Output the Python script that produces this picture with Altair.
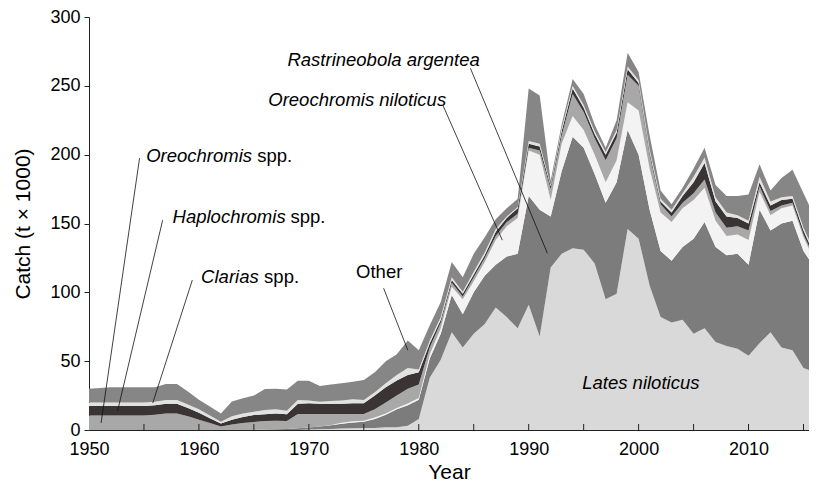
import altair as alt
import pandas as pd

years = list(range(1950, 2017))

series_names = ["Lates niloticus", "Rastrineobola argentea", "Oreochromis niloticus",
                "Oreochromis spp.", "Haplochromis spp.", "Clarias spp.", "Other"]
series_colors = ["#d9d9d9", "#7c7c7c", "#f3f3f3", "#a8a8a8", "#3a3434", "#e2e2e2", "#868686"]

lates = [0] * 20 + [
    0.3, 0.5, 0.7, 1, 1.2, 1.5, 1.5, 2, 2, 3,
    8, 38, 51, 71, 60, 70, 77, 89, 82, 74,
    91, 68, 118, 128, 132, 131, 121, 95, 99, 146,
    139, 105, 82, 78, 80, 70, 74, 64, 61, 59,
    54, 63, 71, 60, 58, 45, 42]

rastrineobola = [0] * 16 + [
    0.3, 0.5, 0.8, 1.2,
    1.5, 2, 2.8, 3.5, 4.3, 4.5, 6.5, 9, 13, 15,
    14, 14, 19, 27, 24, 30, 35, 31, 44, 54,
    79, 92, 37, 60, 81, 74, 65, 70, 81, 72,
    61, 55, 48, 45, 53, 69, 77, 69, 66, 69,
    66, 97, 74, 90, 94, 85, 76]

o_niloticus = [0] * 22 + [
    0.1, 0.8, 0.8, 0.8, 1, 1, 1, 1.2,
    1.2, 3, 4, 6, 11, 8, 10, 18, 22, 26,
    33, 40, 12, 20, 15, 13, 14, 15, 16, 20,
    32, 30, 28, 28, 28, 28, 25, 19, 14, 14,
    18, 13, 11, 11, 11, 10, 5]

oreochromis_spp = [
    10.5, 10.5, 10.5, 10.5, 10.5, 10.5, 11, 12, 12, 10,
    7.5, 5, 2.6, 4, 5, 5.8, 6.2, 6.3, 5.7, 10.4,
    9.8, 9.1, 8, 6.3, 5.3, 4.8, 6, 8, 9, 10.8,
    9.8, 5, 4, 3, 2, 3, 3, 3, 3, 3,
    2, 3, 8, 6, 16, 13, 12, 16, 16, 20,
    18, 10, 6, 4, 4, 5, 6, 6, 6, 6,
    7, 4, 3, 2, 2, 2, 2]

haplochromis = [
    7, 7, 7, 7, 7, 7, 7, 7, 7, 6,
    5, 3.5, 2.2, 3.5, 4.5, 5.1, 5, 5.2, 5, 7.4,
    7.8, 7.4, 7.4, 7.4, 7.8, 7.8, 10, 11, 11, 10,
    9, 3, 2, 2, 2, 2, 2, 3, 3, 4,
    3, 3, 2, 3, 4, 3, 3, 4, 4, 4,
    2, 2, 2, 3, 5, 8, 12, 8, 8, 6,
    5, 3, 4, 4, 3, 3, 2]

clarias = [
    2.5, 2.5, 2.5, 2.5, 2.5, 2.5, 2.5, 2.8, 2.8, 2.5,
    2.5, 2, 1.2, 2.5, 2.5, 2.4, 3, 3, 2.5, 2.8,
    2.1, 1.5, 2, 2.5, 3, 2.4, 2.5, 3, 4, 5,
    2, 2, 2, 2, 1.5, 2, 2, 2, 1, 1,
    2, 2, 1, 2, 2, 2, 2, 2, 2, 2,
    2, 2, 2, 2, 2, 4, 4, 3, 3, 2,
    2, 4, 3, 2, 2, 2, 2]

other = [
    10, 10.5, 11, 11, 11, 11, 10.5, 11.7, 11.7, 9.5,
    7, 6.5, 6, 10.7, 11, 11.7, 15.2, 15, 15.5, 14,
    14.3, 11.5, 12, 12.5, 12.6, 14.5, 14.5, 16, 15, 20,
    14, 11, 11, 11, 10.5, 13, 11, 7, 6, 6,
    38, 35, 3, 3, 5, 8, 5, 3, 7, 10,
    6, 10, 6, 4, 4, 6, 7, 9, 12, 14,
    19, 9, 8, 14, 19, 25, 26]

series_values = [lates, rastrineobola, o_niloticus, oreochromis_spp,
                 haplochromis, clarias, other]

rows = []
for k, (name, vals) in enumerate(zip(series_names, series_values)):
    for yr, v in zip(years, vals):
        rows.append({"year": yr, "catch": v, "species": name, "order": k})
df = pd.DataFrame(rows)

# annotation label anchors (data coordinates)
center_italic = pd.DataFrame({
    "x": [1976.8, 1974.4, 2000.2],
    "y": [268.5, 239.5, 34.0],
    "text": ["Rastrineobola argentea", "Oreochromis niloticus", "Lates niloticus"],
})
center_normal = pd.DataFrame({"x": [1976.4], "y": [114.7], "text": ["Other"]})
left_italic = pd.DataFrame({
    "x": [1955.2, 1957.6, 1960.2],
    "y": [199.0, 154.6, 111.0],
    "text": ["Oreochromis", "Haplochromis", "Clarias"],
})
pointer_lines = pd.DataFrame({
    "x": [1984.7, 1982.2, 1954.6, 1956.7, 1959.4, 1976.8],
    "y": [262.7, 235.8, 197.5, 152.4, 108.9, 103.0],
    "x2": [1991.7, 1987.6, 1951.1, 1952.6, 1955.8, 1979.0],
    "y2": [128.4, 137.9, 5.1, 13.8, 19.6, 58.0],
})
minor_ticks = pd.DataFrame({"year": list(range(1955, 2016, 5))})

W, H = 720, 413
FONT = "Liberation Sans"
FS = 18.5

x_scale = alt.Scale(domain=[1950, 2015.5], nice=False, zero=False)
y_scale = alt.Scale(domain=[0, 300], nice=False, zero=True)

x_axis = alt.Axis(values=list(range(1950, 2011, 10)), format="d", title="Year",
                  ticks=False, tickSize=0, labelPadding=10, titlePadding=3,
                  labelFlush=False)
y_axis = alt.Axis(values=list(range(0, 301, 50)), title="Catch (t × 1000)",
                  tickSize=5, labelPadding=4, titlePadding=16)


def xq(field):
    return alt.X(field, type="quantitative", scale=x_scale, axis=x_axis)


def yq(field, **kw):
    return alt.Y(field, type="quantitative", scale=y_scale, axis=y_axis, **kw)


areas = alt.Chart(df).mark_area(clip=True, interpolate="linear").encode(
    x=xq("year"),
    y=yq("catch", stack="zero"),
    color=alt.Color("species:N", scale=alt.Scale(domain=series_names, range=series_colors),
                    legend=None),
    order=alt.Order("order:Q", sort="ascending"),
)

ticks = alt.Chart(minor_ticks).mark_rule(color="#222222", strokeWidth=1).encode(
    x=xq("year"),
    y=alt.value(H),
    y2=alt.value(H - 6),
)

rules = alt.Chart(pointer_lines).mark_rule(color="#111111", strokeWidth=0.8).encode(
    x=xq("x"),
    y=yq("y"),
    x2="x2:Q",
    y2="y2:Q",
)

t_ci = alt.Chart(center_italic).mark_text(
    font=FONT, fontSize=FS, fontStyle="italic", align="center", baseline="middle", color="black"
).encode(x=xq("x"), y=yq("y"), text="text:N")

t_cn = alt.Chart(center_normal).mark_text(
    font=FONT, fontSize=FS, align="center", baseline="middle", color="black"
).encode(x=xq("x"), y=yq("y"), text="text:N")

t_li = alt.Chart(left_italic).mark_text(
    font=FONT, fontSize=FS, fontStyle="italic", align="left", baseline="middle", color="black"
).encode(x=xq("x"), y=yq("y"), text="text:N")

spp_layers = []
for i, off in enumerate([111, 118, 63]):
    spp_layers.append(
        alt.Chart(left_italic.iloc[[i]]).mark_text(
            font=FONT, fontSize=FS, align="left", baseline="middle", color="black", dx=off
        ).encode(x=xq("x"), y=yq("y"), text=alt.value("spp."))
    )

chart = alt.layer(areas, ticks, rules, t_ci, t_cn, t_li, *spp_layers).properties(
    width=W, height=H,
    autosize=alt.AutoSizeParams(type="none"),
    padding={"left": 81, "top": 9, "right": 0, "bottom": 52},
    background="white",
).configure_view(stroke=None).configure_axis(
    grid=False,
    labelFont=FONT, labelFontSize=18, labelColor="black",
    titleFont=FONT, titleFontSize=21, titleFontWeight="normal", titleColor="black",
    domainColor="#222222", tickColor="#222222", domainWidth=1,
)

chart.save("out.html", embed_options={"renderer": "svg", "actions": False})
